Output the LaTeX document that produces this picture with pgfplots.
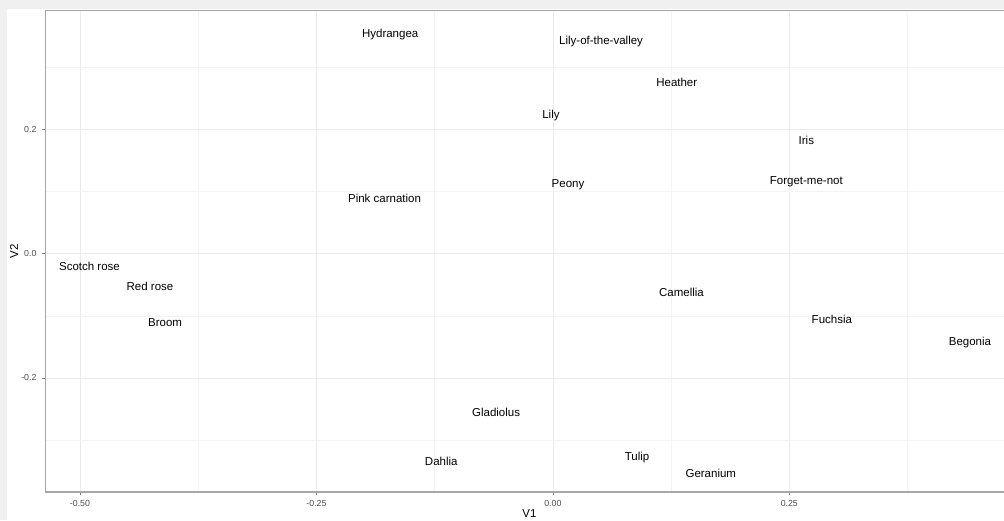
\documentclass[border=0pt]{standalone}
\usepackage{pgfplots}
\pgfplotsset{compat=1.18}
\usepackage{pgfplotstable}
\usepackage{fontspec}
\setmainfont{Liberation Sans}
\definecolor{bgframe}{HTML}{F0F0F0}
\definecolor{gridmaj}{HTML}{EBEBEB}
\definecolor{gridmin}{HTML}{F4F4F4}
\definecolor{ticktext}{HTML}{4D4D4D}
\definecolor{bordercol}{HTML}{A6A6A6}
\pgfplotstableread[col sep=comma]{
x,y,label
-0.172,0.355,Hydrangea
0.051,0.344,Lily-of-the-valley
0.131,0.278,Heather
-0.002,0.225,Lily
0.268,0.184,Iris
0.268,0.118,Forget-me-not
0.016,0.113,Peony
-0.178,0.091,Pink carnation
-0.490,-0.018,Scotch rose
-0.426,-0.050,Red rose
-0.410,-0.108,Broom
0.136,-0.060,Camellia
0.295,-0.104,Fuchsia
0.441,-0.141,Begonia
-0.060,-0.253,Gladiolus
-0.118,-0.332,Dahlia
0.089,-0.325,Tulip
0.167,-0.351,Geranium
}\flowers
\begin{document}
\begin{tikzpicture}
\useasboundingbox (-45pt,-28pt) rectangle (959pt,492pt);
\fill[white] (-45pt,-28pt) rectangle (959pt,492pt);
\fill[bgframe] (-45pt,482.5pt) rectangle (959pt,492pt);
\fill[bgframe] (-45pt,-28pt) rectangle (-38pt,492pt);
\begin{axis}[
  at={(0pt,0pt)}, anchor=south west,
  scale only axis,
  width=959pt, height=482pt,
  xmin=-0.537, xmax=0.477,
  ymin=-0.3835, ymax=0.392,
  axis x line=bottom, axis y line=left,
  x axis line style={-, color=bordercol, line width=1.3pt},
  y axis line style={-, color=bordercol, line width=0.8pt},
  xtick={-0.5,-0.25,0,0.25},
  xticklabels={-0.50,-0.25,0.00,0.25},
  ytick={-0.2,0,0.2},
  yticklabels={-0.2,0.0,0.2},
  minor xtick={-0.375,-0.125,0.125,0.375},
  minor ytick={-0.3,-0.1,0.1,0.3},
  grid=both,
  major grid style={color=gridmaj, line width=0.7pt},
  minor grid style={color=gridmin, line width=0.5pt},
  tick align=outside,
  major tick length=3pt,
  minor tick length=0pt,
  tick style={color=gray, line width=0.6pt},
  /pgf/number format/assume math mode=true,
  ticklabel style={font=\fontsize{8.8}{10}\selectfont, text=ticktext},
  xticklabel style={yshift=-2pt},
  yticklabel style={xshift=-2pt},
  xlabel={V1},
  ylabel={V2},
  label style={font=\fontsize{11.5}{13}\selectfont},
  xlabel style={at={(axis cs:-0.0247,-0.3835)}, anchor=center, yshift=-22pt},
  ylabel style={at={(rel axis cs:0,0.5)}, anchor=center, yshift=31pt},
  clip=false,
]
\addplot[only marks, mark=none,
  nodes near coords,
  point meta=explicit symbolic,
  nodes near coords align={center},
  every node near coord/.append style={font=\fontsize{11.5}{13}\selectfont, text=black, anchor=center, inner sep=0pt, yshift=-1.5pt},
] table[x=x, y=y, meta=label] {\flowers};
\draw[bordercol, line width=0.8pt] (rel axis cs:0,1) -- (rel axis cs:1,1);
\end{axis}
\end{tikzpicture}
\end{document}
